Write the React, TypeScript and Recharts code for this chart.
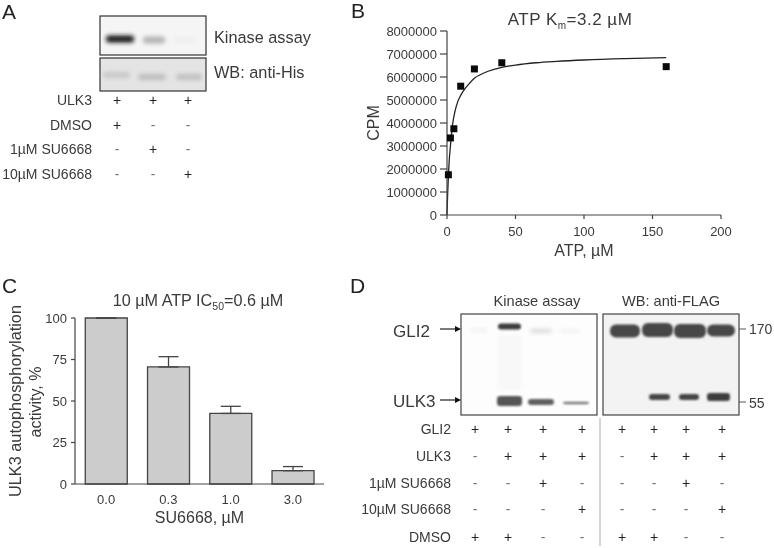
import {
  Bar,
  BarChart,
  ComposedChart,
  ErrorBar,
  Line,
  Scatter,
  XAxis,
  YAxis,
} from "recharts";

const atpDoses = [1, 2.5, 5, 10, 20, 40, 160];
const cpmValues = [1750000, 3350000, 3750000, 5600000, 6350000, 6620000, 6450000];
const fitDoses = [0, 0.3, 0.6, 1, 1.5, 2.5, 4, 6, 8, 10, 13, 16, 20, 25, 30, 40, 50, 65, 80, 100, 130, 160];
const fitValues = [0, 600000, 1100000, 1650000, 2250000, 3000000, 3900000, 4550000, 4950000, 5200000, 5480000, 5700000, 5950000, 6120000, 6250000, 6420000, 6520000, 6620000, 6680000, 6740000, 6800000, 6840000];
const cpmTicks = [0, 1000000, 2000000, 3000000, 4000000, 5000000, 6000000, 7000000, 8000000];
const atpTicks = [0, 50, 100, 150, 200];

const su6668Doses = ["0.0", "0.3", "1.0", "3.0"];
const activity = [100, 70.5, 42.5, 8];
const activityErr = [0, 6.2, 4.3, 2.5];
const activityTicks = [0, 25, 50, 75, 100];

const panelARows = ["ULK3", "DMSO", "1µM SU6668", "10µM SU6668"];
const panelAMarks = ["+++", "+--", "-+-", "--+"];
const panelDRows = ["GLI2", "ULK3", "1µM SU6668", "10µM SU6668", "DMSO"];
const panelDMarks = ["++++++++", "-+++-+++", "--+---+-", "---+---+", "++--++--"];

const pointRows = atpDoses.map((x, i) => ({ x, cpm: cpmValues[i] }));
const fitRows = fitDoses.map((x, i) => ({ x, fit: fitValues[i] }));
const barRows = su6668Doses.map((dose, i) => ({
  dose,
  activity: activity[i],
  err: [0, activityErr[i]],
}));

const FONT = "'Liberation Sans', Arial, sans-serif";
const INK = "#3a3a3a";
const AXIS = "#444";
// own layer so the text gets grey antialiasing, no coloured fringes
const LAYER = { willChange: "transform" } as const;

const SquareDot = (props: any) => (
  <rect x={props.cx - 3.5} y={props.cy - 3.5} width={7} height={7} fill="#0a0a0a" />
);

function MarkTable({ rows, marks, labelX, colX, rowY, size }: any) {
  return (
    <g fontFamily={FONT} fill={INK}>
      {rows.map((row: string, r: number) => (
        <g key={row}>
          <text x={labelX} y={rowY[r] + 5} fontSize={size} textAnchor="end">{row}</text>
          {marks[r].split("").map((m: string, c: number) => (
            <text key={c} x={colX[c]} y={rowY[r] + 5} fontSize={14} textAnchor="middle" fill={m === "-" ? "#777" : "#222"}>{m}</text>
          ))}
        </g>
      ))}
    </g>
  );
}

function Band({ x, y, w, h, c, rx = 3, f = "url(#soft)" }: any) {
  return <rect x={x} y={y - h / 2} width={w} height={h} rx={rx} fill={c} filter={f} />;
}

function Overlay() {
  return (
    <svg width={774} height={548} style={{ position: "absolute", left: 0, top: 0, ...LAYER }}>
      <defs>
        <filter id="soft" x="-30%" y="-150%" width="160%" height="400%"><feGaussianBlur stdDeviation="2" /></filter>
        <filter id="tight" x="-20%" y="-50%" width="140%" height="200%"><feGaussianBlur stdDeviation="0.8" /></filter>
      </defs>

      <g fontFamily={FONT} fontSize={21} fill="#222">
        <text x={2} y={19}>A</text>
        <text x={351} y={18}>B</text>
        <text x={2} y={293}>C</text>
        <text x={350} y={293}>D</text>
      </g>

      {/* panel A blots */}
      <rect x={100} y={16} width={106} height={39} fill="#f5f5f5" stroke="#333" strokeWidth={1.2} />
      <Band x={106} y={39} w={28} h={7} c="#141414" />
      <Band x={143} y={40} w={22} h={7} c="#b4b4b4" />
      <Band x={174} y={40} w={21} h={4} c="#ececec" />
      <rect x={100} y={58} width={106} height={33} fill="#e4e4e4" stroke="#333" strokeWidth={1.2} />
      <Band x={103} y={75} w={27} h={6} c="#c8c8c8" />
      <Band x={138} y={77} w={28} h={6} c="#bebebe" />
      <Band x={176} y={77} w={26} h={6} c="#c0c0c0" />
      <g fontFamily={FONT} fontSize={16.3} fill={INK}>
        <text x={214} y={43}>Kinase assay</text>
        <text x={214} y={78}>WB: anti-His</text>
      </g>
      <MarkTable rows={panelARows} marks={panelAMarks} labelX={92} colX={[117, 153, 188]} rowY={[100, 125, 149, 174]} size={14} />

      {/* panel B title */}
      <text x={570} y={25} fontFamily={FONT} fontSize={17} letterSpacing={0.5} fill={INK} textAnchor="middle">
        ATP K<tspan fontSize={10} dy={4}>m</tspan><tspan dy={-4}>=3.2 µM</tspan>
      </text>

      {/* panel C title */}
      <text x={198} y={306} fontFamily={FONT} fontSize={16.2} fill={INK} textAnchor="middle">
        10 µM ATP IC<tspan fontSize={10.5} dy={4}>50</tspan><tspan dy={-4}>=0.6 µM</tspan>
      </text>

      {/* panel D blots */}
      <g fontFamily={FONT} fontSize={14.6} fill={INK} textAnchor="middle">
        <text x={537} y={306}>Kinase assay</text>
        <text x={671} y={306}>WB: anti-FLAG</text>
      </g>
      <rect x={461} y={314} width={136} height={101} fill="#fdfdfd" stroke="#444" strokeWidth={1.2} />
      <rect x={498} y={335} width={24} height={55} fill="#f8f8f8" filter="url(#soft)" />
      <Band x={470} y={330} w={18} h={2} c="#e8e8e8" />
      <Band x={498} y={326.5} w={23} h={6} c="#3c3c3c" f="url(#tight)" />
      <Band x={530} y={331} w={22} h={3.5} c="#d4d4d4" />
      <Band x={560} y={331} w={20} h={2} c="#e8e8e8" />
      <Band x={497} y={401} w={25} h={10} c="#555" f="url(#tight)" />
      <Band x={528} y={402} w={26} h={6} c="#5e5e5e" f="url(#tight)" />
      <Band x={563} y={403} w={26} h={2.5} c="#777" f="url(#tight)" />
      <rect x={603} y={314} width={136} height={101} fill="#f3f3f3" stroke="#444" strokeWidth={1.2} />
      <Band x={610} y={331} w={30} h={13} c="#464646" rx={6} f="url(#tight)" />
      <Band x={642} y={330} w={31} h={14} c="#464646" rx={6} f="url(#tight)" />
      <Band x={674} y={331} w={32} h={14} c="#464646" rx={6} f="url(#tight)" />
      <Band x={707} y={330.5} w={28} h={12} c="#464646" rx={6} f="url(#tight)" />
      <Band x={649} y={397} w={21} h={6} c="#444" f="url(#tight)" />
      <Band x={679} y={397} w={20} h={6} c="#444" f="url(#tight)" />
      <Band x={707} y={397} w={23} h={8} c="#3c3c3c" f="url(#tight)" />
      <g stroke="#222" strokeWidth={1.2}>
        <line x1={440} y1={329} x2={456} y2={329} />
        <line x1={440} y1={400} x2={456} y2={400} />
      </g>
      <path d="M461 329 l-6 -3 v6 Z M461 400 l-6 -3 v6 Z" fill="#111" />
      <g stroke="#555" strokeWidth={1}>
        <line x1={739} y1={329} x2={746} y2={329} />
        <line x1={739} y1={402} x2={746} y2={402} />
      </g>
      <g fontFamily={FONT} fill={INK}>
        <text x={393} y={337} fontSize={17}>GLI2</text>
        <text x={393} y={407} fontSize={17}>ULK3</text>
        <text x={749} y={334} fontSize={14}>170</text>
        <text x={749} y={408} fontSize={14}>55</text>
      </g>
      <line x1={600} y1={418} x2={600} y2={546} stroke="#aaa" strokeWidth={1} />
      <MarkTable rows={panelDRows} marks={panelDMarks} labelX={451} colX={[475, 508, 543, 582, 622, 654, 686, 722]} rowY={[429, 456, 483, 509, 537]} size={14} />

      {/* panel C second y label line */}
      <text transform="translate(40.5 402) rotate(-90)" fontFamily={FONT} fontSize={16} fill={INK} textAnchor="middle">activity, %</text>
    </svg>
  );
}

export default function App() {
  const tick = { fontSize: 13, fill: INK, fontFamily: FONT };
  const axisLine = { stroke: AXIS, strokeWidth: 1.2 };
  const titleStyle = { fontSize: 16, fill: INK, fontFamily: FONT };
  return (
    <div style={{ position: "absolute", left: 0, top: 0, width: 774, height: 548, overflow: "hidden", background: "#fff" }}>
      <Overlay />
      <div style={{ position: "absolute", left: 350, top: 0, ...LAYER }}>
        <ComposedChart width={400} height={270} margin={{ top: 31, right: 29, left: 47, bottom: 25 }}>
          <XAxis
            dataKey="x"
            type="number"
            domain={[0, 200]}
            ticks={atpTicks}
            interval={0}
            tick={tick}
            axisLine={axisLine}
            tickLine={axisLine}
            tickSize={4}
            tickMargin={8}
            height={30}
            label={{ value: "ATP, µM", position: "insideBottom", offset: -11, style: titleStyle }}
          />
          <YAxis
            type="number"
            domain={[0, 8000000]}
            ticks={cpmTicks}
            interval={0}
            tick={tick}
            axisLine={axisLine}
            tickLine={axisLine}
            tickSize={7}
            tickMargin={3}
            width={50}
            label={{ value: "CPM", angle: -90, position: "insideLeft", offset: -24, style: { ...titleStyle, textAnchor: "middle" } }}
          />
          <Line data={fitRows} dataKey="fit" type="monotone" stroke="#222" strokeWidth={1.3} dot={false} isAnimationActive={false} />
          <Scatter data={pointRows} dataKey="cpm" shape={SquareDot} isAnimationActive={false} />
        </ComposedChart>
      </div>
      <div style={{ position: "absolute", left: 0, top: 270, ...LAYER }}>
        <BarChart width={340} height={270} data={barRows} margin={{ top: 48, right: 16, left: 25, bottom: 25 }} barCategoryGap="16.5%">
          <XAxis
            dataKey="dose"
            interval={0}
            tick={tick}
            axisLine={axisLine}
            tickLine={false}
            tickMargin={5}
            height={31}
            label={{ value: "SU6668, µM", position: "insideBottom", offset: -8, style: titleStyle }}
          />
          <YAxis
            type="number"
            domain={[0, 100]}
            ticks={activityTicks}
            interval={0}
            tick={tick}
            axisLine={axisLine}
            tickLine={axisLine}
            tickSize={4}
            tickMargin={4}
            width={50}
            label={{ value: "ULK3 autophosphorylation", angle: -90, position: "insideLeft", offset: -10, style: { ...titleStyle, fontSize: 16.3, textAnchor: "middle" } }}
          />
          <Bar dataKey="activity" fill="#cccccc" stroke={AXIS} strokeWidth={1.3} isAnimationActive={false}>
            <ErrorBar dataKey="err" direction="y" width={10} stroke={AXIS} strokeWidth={1.3} />
          </Bar>
        </BarChart>
      </div>
    </div>
  );
}
